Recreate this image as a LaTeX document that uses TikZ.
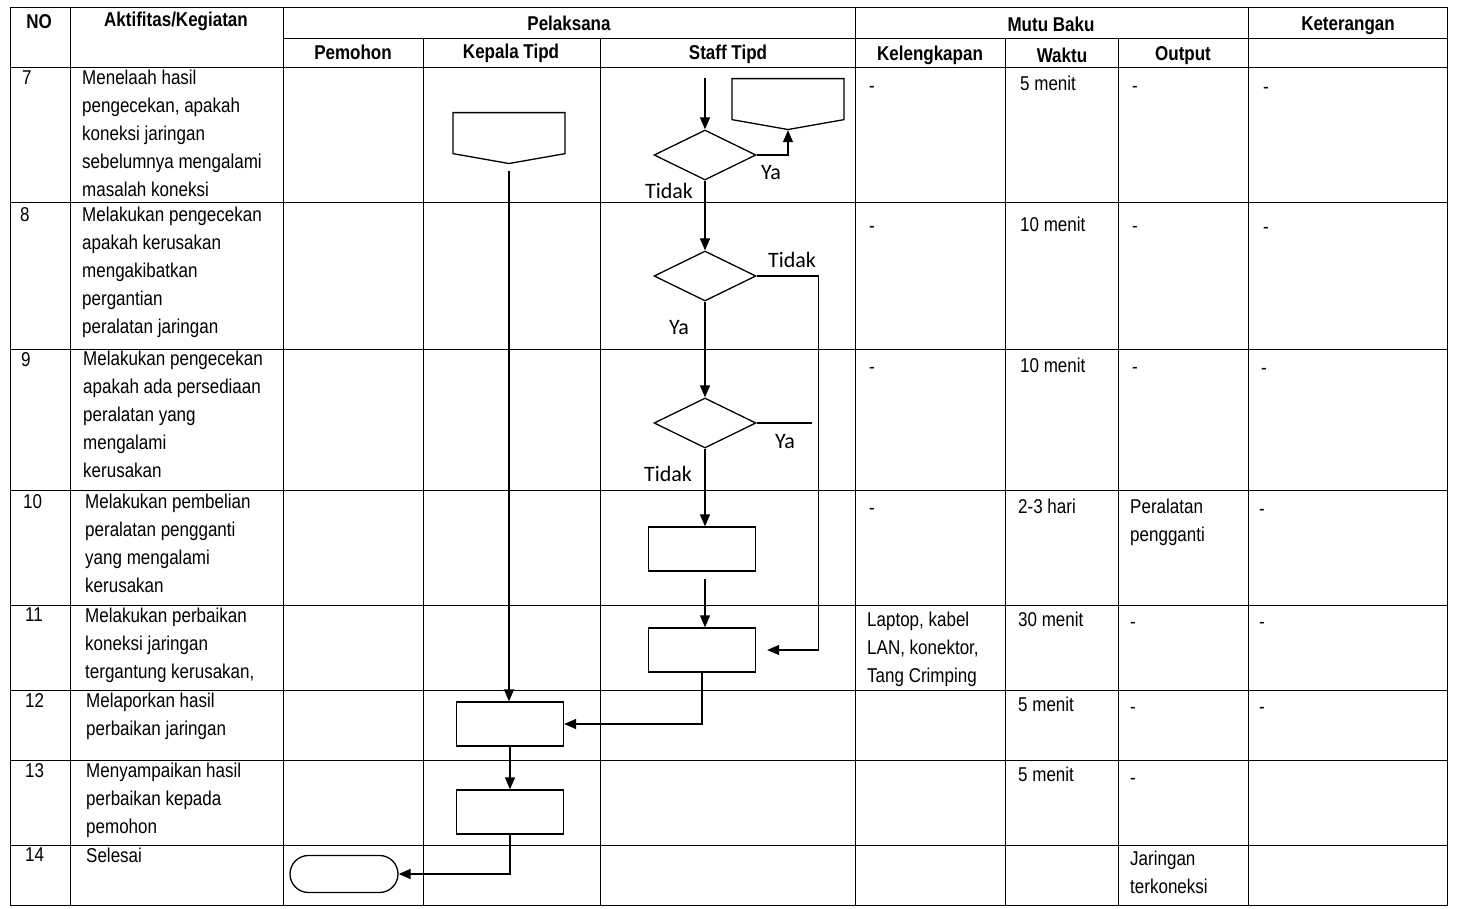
\documentclass[tikz,border=0pt]{standalone}
\usepackage{fontspec}
\setmainfont{Liberation Sans}[FakeStretch=0.85]
\newfontfamily\flowfont{Carlito}
\usetikzlibrary{arrows.meta,shapes.geometric,shapes.misc,shapes.symbols}
\tikzset{
  tableline/.style={line width=1pt},
  flowline/.style={line width=1.3pt,line join=miter},
  flowarrow/.style={flowline,-{Triangle[length=12pt,width=10pt]}},
  procbox/.style={draw,flowline,rectangle,minimum width=107,minimum height=44,inner sep=0},
  decision/.style={draw,flowline,diamond,minimum width=102,minimum height=50,inner sep=0},
  offpage/.style={draw,flowline,signal,signal to=south,signal pointer angle=160,
        minimum width=112,minimum height=41,inner sep=0,anchor=north},
  endterm/.style={draw,flowline,rounded rectangle,minimum width=108,minimum height=37,inner sep=0},
  headtxt/.style={font=\bfseries\fontsize{20}{22}\selectfont,inner sep=0},
  celltxt/.style={anchor=north west,inner sep=0,align=left,font=\fontsize{20}{28}\selectfont},
  flowlbl/.style={font=\flowfont\fontsize{22}{24}\selectfont,inner sep=0},
}
\begin{document}
\begin{tikzpicture}[x=1pt,y=-1pt]
\useasboundingbox (0,0) rectangle (1457,909);
% table frame
\draw[tableline] (10,8) rectangle (1447,905);
\draw[tableline] (283,39) -- (1447,39);
\foreach \y in {68,203,350,490,605,690,760,845}
  \draw[tableline] (10,\y) -- (1447,\y);
\foreach \x in {70,283,855,1248}
  \draw[tableline] (\x,8) -- (\x,905);
\foreach \x in {423,600,1005,1118}
  \draw[tableline] (\x,39) -- (\x,905);
% headers
\node[headtxt] (hno)  at (39,22) {NO};
\node[headtxt] (hakt) at (176,21) {Aktifitas/Kegiatan};
\node[headtxt] (hpel) at (569,23) {Pelaksana};
\node[headtxt] (hmut) at (1051,24) {Mutu Baku};
\node[headtxt] (hket) at (1348,26) {Keterangan};
\node[headtxt] (hpem) at (353,52) {Pemohon};
\node[headtxt] (hkep) at (511,53) {Kepala Tipd};
\node[headtxt] (hsta) at (728,54) {Staff Tipd};
\node[headtxt] (hkel) at (930,55) {Kelengkapan};
\node[headtxt] (hwak) at (1062,55) {Waktu};
\node[headtxt] (hout) at (1183,56) {Output};
% NO and Aktifitas columns
\node[celltxt] (no7)  at (22,71)  {7};
\node[celltxt] (no8)  at (20,207) {8};
\node[celltxt] (no9)  at (21,352) {9};
\node[celltxt] (no10) at (23,494) {10};
\node[celltxt] (no11) at (25,608) {11};
\node[celltxt] (no12) at (25,693) {12};
\node[celltxt] (no13) at (25,763) {13};
\node[celltxt] (no14) at (25,848) {14};
\node[celltxt] (akt7)  at (82,70)  {Menelaah hasil\\pengecekan, apakah\\koneksi jaringan\\sebelumnya mengalami\\masalah koneksi};
\node[celltxt] (akt8)  at (82,207) {Melakukan pengecekan\\apakah kerusakan\\mengakibatkan\\pergantian\\peralatan jaringan};
\node[celltxt] (akt9)  at (83,351) {Melakukan pengecekan\\apakah ada persediaan\\peralatan yang\\mengalami\\kerusakan};
\node[celltxt] (akt10) at (85,494) {Melakukan pembelian\\peralatan pengganti\\yang mengalami\\kerusakan};
\node[celltxt] (akt11) at (85,608) {Melakukan perbaikan\\koneksi jaringan\\tergantung kerusakan,};
\node[celltxt] (akt12) at (86,693) {Melaporkan hasil\\perbaikan jaringan};
\node[celltxt] (akt13) at (86,763) {Menyampaikan hasil\\perbaikan kepada\\pemohon};
\node[celltxt] (akt14) at (86,848) {Selesai};
% Mutu Baku and Keterangan columns
\node[celltxt] (kel7)  at (869,86)  {-};
\node[celltxt] (wak7)  at (1020,76) {5 menit};
\node[celltxt] (out7)  at (1132,86) {-};
\node[celltxt] (ket7)  at (1263,87) {-};
\node[celltxt] (kel8)  at (869,226) {-};
\node[celltxt] (wak8)  at (1020,217) {10 menit};
\node[celltxt] (out8)  at (1132,226) {-};
\node[celltxt] (ket8)  at (1263,227) {-};
\node[celltxt] (kel9)  at (869,367) {-};
\node[celltxt] (wak9)  at (1020,358) {10 menit};
\node[celltxt] (out9)  at (1132,367) {-};
\node[celltxt] (ket9)  at (1261,368) {-};
\node[celltxt] (kel10) at (869,508) {-};
\node[celltxt] (wak10) at (1018,499) {2-3 hari};
\node[celltxt] (out10) at (1130,499) {Peralatan\\pengganti};
\node[celltxt] (ket10) at (1259,509) {-};
\node[celltxt] (kel11) at (867,612) {Laptop, kabel\\LAN, konektor,\\Tang Crimping};
\node[celltxt] (wak11) at (1018,612) {30 menit};
\node[celltxt] (out11) at (1130,622) {-};
\node[celltxt] (ket11) at (1259,622) {-};
\node[celltxt] (wak12) at (1018,697) {5 menit};
\node[celltxt] (out12) at (1130,707) {-};
\node[celltxt] (ket12) at (1259,707) {-};
\node[celltxt] (wak13) at (1018,767) {5 menit};
\node[celltxt] (out13) at (1130,778) {-};
\node[celltxt] (out14) at (1130,851) {Jaringan\\terkoneksi};
% flowchart
\node[offpage] (kt7) at (509,112) {};
\node[offpage] (st7) at (788,78) {};
\coordinate (st0) at (705,78);
\node[decision] (d1) at (705,155) {};
\node[decision] (d2) at (705,276) {};
\node[decision] (d3) at (705,423) {};
\node[procbox] (b10) at (702,549) {};
\node[procbox] (b11) at (702,650) {};
\node[procbox] (b12) at (510,724) {};
\node[procbox] (b13) at (510,812) {};
\node[endterm] (fin) at (344,874) {};
\coordinate (d3end) at (812,423);
\draw[flowarrow] (st0) -- (d1.north);
\draw[flowarrow] (d1.east) -| (st7.south);
\draw[flowarrow] (d1.south) -- (d2.north);
\draw[flowarrow,shorten >=11pt] (d2.east) -| ([xshift=62pt]b11.east) -- (b11.east);
\draw[flowarrow] (d2.south) -- (d3.north);
\draw[flowline] (d3.east) -- (d3end);
\draw[flowarrow] (d3.south) -- (d3.south |- b10.north);
\draw[flowarrow,shorten <=7pt] (b10.south -| d3.south) -- (d3.south |- b11.north);
\draw[flowarrow] (b11.south) |- (b12.east);
\draw[flowarrow,shorten <=7pt] (kt7.south) -- (kt7.south |- b12.north);
\draw[flowarrow] (b12.south) -- (b13.north);
\draw[flowarrow] (b13.south) |- (fin.east);
\node[flowlbl] (lya1) at (771,173) {Ya};
\node[flowlbl] (ltd1) at (669,191) {Tidak};
\node[flowlbl] (ltd2) at (792,260) {Tidak};
\node[flowlbl] (lya2) at (679,328) {Ya};
\node[flowlbl] (lya3) at (785,442) {Ya};
\node[flowlbl] (ltd3) at (668,474) {Tidak};
\end{tikzpicture}
\end{document}
